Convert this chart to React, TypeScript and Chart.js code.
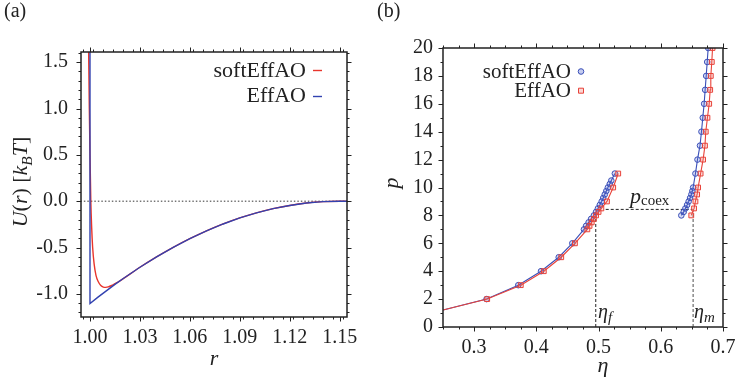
import React, { useEffect, useRef } from "react";
import { Chart, registerables } from "chart.js";
Chart.register(...registerables);

const FAM = "'Liberation Serif', 'Times New Roman', serif";

// ---------- Panel (a): U(r) ----------
const effR = [1.0, 1.0, 1.005, 1.01, 1.015, 1.02, 1.03, 1.04, 1.05, 1.06, 1.07, 1.08, 1.09, 1.1, 1.11, 1.12, 1.13, 1.14, 1.15, 1.16];
const effU = [2.4, -1.104, -1.033, -0.965, -0.898, -0.834, -0.713, -0.601, -0.498, -0.405, -0.321, -0.246, -0.181, -0.126, -0.081, -0.046, -0.02, -0.005, 0.0, 0.0];
const softR = [0.9988, 0.9992, 0.9996, 1.0, 1.0005, 1.001, 1.0016, 1.0025, 1.0036, 1.005, 1.0065, 1.008, 1.0095, 1.011, 1.013, 1.015, 1.0175, 1.02, 1.03, 1.04, 1.05, 1.06, 1.07, 1.08, 1.09, 1.1, 1.11, 1.12, 1.13, 1.14, 1.15, 1.16];
const softU = [2.4, 1.6, 1.0, 0.5, 0.0, -0.28, -0.5, -0.68, -0.8, -0.87, -0.91, -0.927, -0.93, -0.925, -0.91, -0.89, -0.865, -0.836, -0.713, -0.601, -0.498, -0.405, -0.321, -0.246, -0.181, -0.126, -0.081, -0.046, -0.02, -0.005, 0.0, 0.0];
const zeroR = [0.99, 1.16];
const zeroU = [0, 0];
const aXTicks = [1.0, 1.03, 1.06, 1.09, 1.12, 1.15];
const aYTicks = [-1.0, -0.5, 0.0, 0.5, 1.0, 1.5];

// ---------- Panel (b): p(eta) ----------
const softFluidEta = [0.25, 0.32, 0.371, 0.4075, 0.436, 0.4578, 0.4765, 0.480, 0.484, 0.488, 0.4925, 0.496, 0.499, 0.502, 0.505, 0.5075, 0.510, 0.5125, 0.515, 0.518, 0.5205, 0.5262];
const softFluidP = [1.22, 2, 3, 4, 5, 6, 7, 7.25, 7.5, 7.75, 8, 8.25, 8.5, 8.75, 9, 9.25, 9.5, 9.75, 10, 10.25, 10.5, 11];
const effFluidEta = [0.25, 0.321, 0.375, 0.412, 0.44, 0.462, 0.482, 0.4855, 0.489, 0.4925, 0.496, 0.5, 0.5045, 0.5135, 0.5235, 0.5316];
const effFluidP = [1.22, 2, 3, 4, 5, 6, 7, 7.25, 7.5, 7.75, 8, 8.25, 8.5, 9, 10, 11];
const softSolidEta = [0.633, 0.6368, 0.6395, 0.6423, 0.6448, 0.6471, 0.6492, 0.6508, 0.652, 0.6557, 0.659, 0.6630, 0.6654, 0.6675, 0.6697, 0.6713, 0.673, 0.6746, 0.6762];
const softSolidP = [8, 8.25, 8.5, 8.75, 9, 9.25, 9.5, 9.75, 10, 11, 12, 13, 14, 15, 16, 17, 18, 19, 20];
const effSolidEta = [0.649, 0.6535, 0.6557, 0.6584, 0.660, 0.664, 0.668, 0.671, 0.6723, 0.675, 0.6778, 0.6794, 0.6804, 0.682, 0.6832];
const effSolidP = [8, 8.5, 9, 9.5, 10, 11, 12, 13, 14, 15, 16, 17, 18, 19, 20];
const pCoex = 8.43;
const coexEta = [0.5115, 0.651];
const etaF = 0.4955;
const etaFTop = 8.0;
const etaM = 0.652;
const etaMTop = 8.3;
const bXTicks = [0.3, 0.4, 0.5, 0.6, 0.7];
const bYTicks = [0, 2, 4, 6, 8, 10, 12, 14, 16, 18, 20];

const BLUE_A = "#3242b0";
const RED_A = "#e8352c";
const BLUE_B = "#3a4fb8";
const RED_B = "#e8433a";

type Part = { t: string; it?: boolean; sub?: boolean; size?: number; dy?: number };

function drawRich(ctx: CanvasRenderingContext2D, parts: Part[], x: number, y: number, size: number, align: "left" | "center" | "right") {
  const fontOf = (p: Part) => `${p.it ? "italic " : ""}${p.size ?? (p.sub ? size * 0.7 : size)}px ${FAM}`;
  let w = 0;
  const ws: number[] = [];
  for (const p of parts) {
    ctx.font = fontOf(p);
    const m = ctx.measureText(p.t).width;
    ws.push(m);
    w += m;
  }
  let cx = align === "left" ? x : align === "center" ? x - w / 2 : x - w;
  ctx.textAlign = "left";
  ctx.textBaseline = "alphabetic";
  parts.forEach((p, i) => {
    ctx.font = fontOf(p);
    ctx.fillText(p.t, cx, y + (p.dy ?? (p.sub ? size * 0.22 : 0)));
    cx += ws[i];
  });
}

function stepVals(min: number, max: number, step: number) {
  const out: number[] = [];
  const start = Math.ceil(min / step - 1e-9);
  for (let i = start; i * step <= max + 1e-9; i++) out.push(i * step);
  return out;
}

function makeFrame(o: { xMinor: number; yMinor: number; xMajor: number[]; yMajor: number[]; extra: (ctx: CanvasRenderingContext2D, chart: any) => void }) {
  return {
    id: "frame",
    afterDraw(chart: any) {
      const ctx: CanvasRenderingContext2D = chart.ctx;
      const a = chart.chartArea;
      const xs = chart.scales.x;
      const ys = chart.scales.y;
      ctx.save();
      ctx.strokeStyle = "#222";
      ctx.lineWidth = 1;
      ctx.beginPath();
      const vt = (v: number, len: number) => {
        const px = Math.round(xs.getPixelForValue(v)) + 0.5;
        if (px < a.left - 0.6 || px > a.right + 0.6) return;
        ctx.moveTo(px, a.bottom); ctx.lineTo(px, a.bottom + len);
        ctx.moveTo(px, a.top); ctx.lineTo(px, a.top - len);
      };
      const ht = (v: number, len: number) => {
        const py = Math.round(ys.getPixelForValue(v)) + 0.5;
        if (py < a.top - 0.6 || py > a.bottom + 0.6) return;
        ctx.moveTo(a.left, py); ctx.lineTo(a.left - len, py);
        ctx.moveTo(a.right, py); ctx.lineTo(a.right + len, py);
      };
      stepVals(xs.min, xs.max, o.xMinor).forEach((v) => vt(v, 2.5));
      stepVals(ys.min, ys.max, o.yMinor).forEach((v) => ht(v, 2.5));
      o.xMajor.forEach((v) => vt(v, 4.5));
      o.yMajor.forEach((v) => ht(v, 4.5));
      ctx.stroke();
      ctx.lineWidth = 1.5;
      ctx.strokeRect(a.left, a.top, a.right - a.left, a.bottom - a.top);
      ctx.fillStyle = "#222";
      o.extra(ctx, chart);
      ctx.restore();
    },
  };
}

function axisScale(min: number, max: number, ticks: number[], dec: number, isX: boolean, size: number, pad: number) {
  return {
    type: "linear",
    min,
    max,
    afterBuildTicks: (s: any) => { s.ticks = ticks.map((v) => ({ value: v })); },
    afterFit: (s: any) => {
      if (isX) s.height = size; else s.width = size;
      s.paddingLeft = 0; s.paddingRight = 0; s.paddingTop = 0; s.paddingBottom = 0;
    },
    grid: { display: false, drawTicks: false },
    border: { display: false },
    ticks: {
      padding: pad,
      autoSkip: false,
      maxRotation: 0,
      color: "#222",
      font: { family: FAM, size: 20 },
      callback: (v: any) => Number(v).toFixed(dec),
    },
  };
}

const pts = (xs: number[], ys: number[]) => xs.map((x, i) => ({ x, y: ys[i] }));

function configA(): any {
  return {
    type: "line",
    data: {
      datasets: [
        { label: "EffAO", data: pts(effR, effU), borderColor: BLUE_A, borderWidth: 1.4, pointRadius: 0, tension: 0 },
        { label: "softEffAO", data: pts(softR, softU), borderColor: RED_A, borderWidth: 1.4, pointRadius: 0, cubicInterpolationMode: "monotone" },
        { label: "zero", data: pts(zeroR, zeroU), borderColor: "#333", borderWidth: 1, borderDash: [1.5, 2], pointRadius: 0 },
      ],
    },
    options: {
      responsive: false,
      animation: false,
      devicePixelRatio: 1,
      layout: { padding: { left: 0, top: 52, right: 21, bottom: 0 } },
      plugins: { legend: { display: false }, tooltip: { enabled: false } },
      scales: {
        x: axisScale(0.9946, 1.1544, aXTicks, 2, true, 68, 9),
        y: axisScale(-1.25, 1.61, aYTicks, 1, false, 81, 13),
      },
    },
    plugins: [
      makeFrame({
        xMinor: 0.006, yMinor: 0.1, xMajor: aXTicks, yMajor: aYTicks,
        extra: (ctx) => {
          drawRich(ctx, [{ t: "(a)" }], 4, 17, 20, "left");
          drawRich(ctx, [{ t: "r", it: true }], 214, 365, 22, "center");
          ctx.save();
          ctx.translate(27, 182);
          ctx.rotate(-Math.PI / 2);
          drawRich(ctx, [
            { t: "U", it: true }, { t: "(" }, { t: "r", it: true }, { t: ") [" },
            { t: "k", it: true }, { t: "B", it: true, sub: true }, { t: "T", it: true }, { t: "]" },
          ], 0, 0, 22, "center");
          ctx.restore();
          drawRich(ctx, [{ t: "softEffAO" }], 306, 77, 22, "right");
          drawRich(ctx, [{ t: "EffAO" }], 306, 102, 22, "right");
          ctx.lineWidth = 1.4;
          ctx.strokeStyle = RED_A;
          ctx.beginPath(); ctx.moveTo(313, 70.5); ctx.lineTo(322, 70.5); ctx.stroke();
          ctx.strokeStyle = BLUE_A;
          ctx.beginPath(); ctx.moveTo(313, 96.5); ctx.lineTo(322, 96.5); ctx.stroke();
        },
      }),
    ],
  };
}

function configB(): any {
  const firstHidden = (r: number) => (c: any) => (c.dataIndex === 0 && c.dataset.label.indexOf("Fluid") >= 0 ? 0 : r);
  const blueSet = (label: string, xs: number[], ys: number[]) => ({
    label, data: pts(xs, ys), borderColor: BLUE_B, borderWidth: 1.1, tension: 0,
    pointStyle: "circle", pointRadius: firstHidden(2.8), pointBorderColor: BLUE_B, pointBorderWidth: 1,
    pointBackgroundColor: "rgba(90,110,210,0.25)",
  });
  const redSet = (label: string, xs: number[], ys: number[]) => ({
    label, data: pts(xs, ys), borderColor: RED_B, borderWidth: 1.1, tension: 0,
    pointStyle: "rect", pointRadius: firstHidden(3.4), pointBorderColor: RED_B, pointBorderWidth: 1,
    pointBackgroundColor: "rgba(240,120,110,0.2)",
  });
  return {
    type: "line",
    data: {
      datasets: [
        redSet("effFluid", effFluidEta, effFluidP),
        redSet("effSolid", effSolidEta, effSolidP),
        blueSet("softFluid", softFluidEta, softFluidP),
        blueSet("softSolid", softSolidEta, softSolidP),
        { label: "coex", data: pts(coexEta, [pCoex, pCoex]), borderColor: "#222", borderWidth: 1, borderDash: [3, 2], pointRadius: 0 },
        { label: "etaF", data: pts([etaF, etaF], [0, etaFTop]), borderColor: "#222", borderWidth: 1, borderDash: [3, 2], pointRadius: 0 },
        { label: "etaM", data: pts([etaM, etaM], [0, etaMTop]), borderColor: "#777", borderWidth: 1.3, borderDash: [3, 2], pointRadius: 0 },
      ],
    },
    options: {
      responsive: false,
      animation: false,
      devicePixelRatio: 1,
      layout: { padding: { left: 0, top: 48, right: 13, bottom: 0 } },
      plugins: { legend: { display: false }, tooltip: { enabled: false } },
      scales: {
        x: axisScale(0.25, 0.7, bXTicks, 1, true, 58, 9),
        y: axisScale(0, 20, bYTicks, 0, false, 75, 10),
      },
    },
    plugins: [
      makeFrame({
        xMinor: 0.025, yMinor: 1, xMajor: bXTicks, yMajor: bYTicks,
        extra: (ctx) => {
          drawRich(ctx, [{ t: "(b)" }], 9, 17, 20, "left");
          drawRich(ctx, [{ t: "η", it: true }], 235, 372, 22, "center");
          ctx.save();
          ctx.translate(30, 183);
          ctx.rotate(-Math.PI / 2);
          drawRich(ctx, [{ t: "p", it: true }], 0, 0, 22, "center");
          ctx.restore();
          drawRich(ctx, [{ t: "softEffAO" }], 203, 78, 21, "right");
          drawRich(ctx, [{ t: "EffAO" }], 203, 97, 21, "right");
          drawRich(ctx, [{ t: "p", it: true }, { t: "coex", size: 15, dy: 2 }], 262, 203, 22, "left");
          drawRich(ctx, [{ t: "η", it: true }, { t: "f", it: true, size: 15, dy: 4 }], 230, 318, 20, "left");
          drawRich(ctx, [{ t: "η", it: true }, { t: "m", it: true, size: 15, dy: 4 }], 326, 318, 20, "left");
          ctx.lineWidth = 1;
          ctx.strokeStyle = BLUE_B;
          ctx.fillStyle = "rgba(90,110,210,0.35)";
          ctx.beginPath(); ctx.arc(213, 71.5, 2.8, 0, Math.PI * 2); ctx.fill(); ctx.stroke();
          ctx.strokeStyle = RED_B;
          ctx.fillStyle = "rgba(240,120,110,0.3)";
          ctx.beginPath(); ctx.rect(210.5, 88.2, 5, 5); ctx.fill(); ctx.stroke();
        },
      }),
    ],
  };
}

function Panel({ build, left }: { build: () => any; left: number }) {
  const ref = useRef<HTMLCanvasElement>(null);
  useEffect(() => {
    const c = new Chart(ref.current as HTMLCanvasElement, build());
    return () => c.destroy();
  }, []);
  return (
    <canvas
      ref={ref}
      width={368}
      height={385}
      style={{ position: "absolute", left, top: 0, width: 368, height: 385 }}
    />
  );
}

export default function App() {
  return (
    <div style={{ position: "absolute", left: 0, top: 0, width: 736, height: 385, background: "#fff", overflow: "hidden" }}>
      <Panel build={configA} left={0} />
      <Panel build={configB} left={368} />
    </div>
  );
}
